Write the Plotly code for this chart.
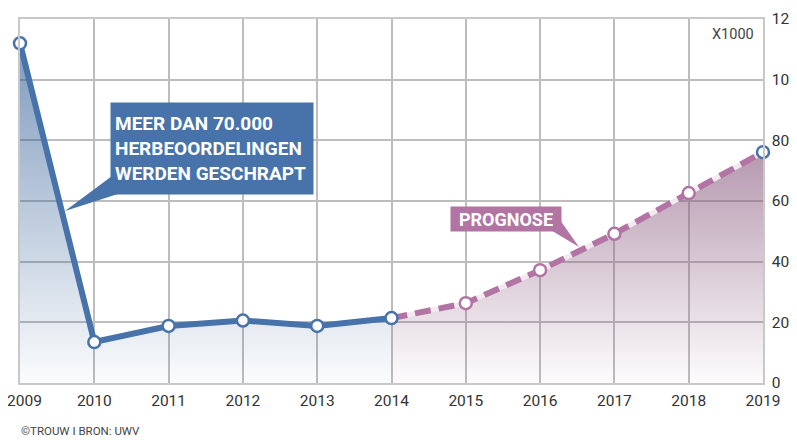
import plotly.graph_objects as go

# ---- data ----
years_actual = [2009, 2010, 2011, 2012, 2013, 2014]
values_actual = [112, 13.5, 18.8, 20.6, 18.8, 21.4]
years_forecast = [2014, 2015, 2016, 2017, 2018, 2019]
values_forecast = [21.4, 26.3, 37.2, 49.2, 62.6, 76.1]
x_ticks = list(range(2009, 2020))
y_ticks = [0, 20, 40, 60, 80, 100, 120]

BLUE = "#4773aa"
PURPLE = "#b274a3"
GRID = "#bdbdbd"
FONT = "Roboto, Open Sans, sans-serif"

# page body has an 8px default margin: compensate
OFF = 8
W, H = 797 - OFF, 440 - OFF
L, R, T, B = 20 - OFF, 34, 19 - OFF, 57
XR = (2009, 2019)
YR = (0, 120)
pw = W - L - R
ph = H - T - B


# helpers take page pixel coordinates (as measured on the reference)
def px2x(px):
    return XR[0] + (px - OFF - L) / pw * (XR[1] - XR[0])


def px2y(py):
    return YR[0] + (T + ph - (py - OFF)) / ph * (YR[1] - YR[0])


def px2px(px):
    return (px - OFF - L) / pw


def py2py(py):
    return (T + ph - (py - OFF)) / ph


fig = go.Figure()

# fills
fig.add_trace(go.Scatter(
    x=years_actual, y=values_actual, mode="lines", line=dict(width=0),
    fill="tozeroy",
    fillgradient=dict(type="vertical", colorscale=[[0, "rgba(42,87,145,0.02)"], [1, "rgba(42,87,145,0.6)"]]),
    hoverinfo="skip", showlegend=False))
fig.add_trace(go.Scatter(
    x=years_forecast, y=values_forecast, mode="lines", line=dict(width=0),
    fill="tozeroy",
    fillgradient=dict(type="vertical", colorscale=[[0, "rgba(137,90,127,0.02)"], [1, "rgba(137,90,127,0.62)"]]),
    hoverinfo="skip", showlegend=False))

# forecast line: pale underlay + dashes
fig.add_trace(go.Scatter(
    x=years_forecast, y=values_forecast, mode="lines",
    line=dict(color="#f3e9f0", width=5), hoverinfo="skip", showlegend=False))
fig.add_trace(go.Scatter(
    x=years_forecast, y=values_forecast, mode="lines",
    line=dict(color=PURPLE, width=6, dash="16px,8px"), showlegend=False))

# actual line
fig.add_trace(go.Scatter(
    x=years_actual, y=values_actual, mode="lines",
    line=dict(color=BLUE, width=6), showlegend=False))

# markers
all_years = years_actual + years_forecast[1:]
all_vals = values_actual + values_forecast[1:]
mcolors = [BLUE] * len(years_actual) + [PURPLE] * (len(years_forecast) - 2) + [BLUE]
fig.add_trace(go.Scatter(
    x=all_years, y=all_vals, mode="markers", cliponaxis=False,
    marker=dict(size=12, color="white", line=dict(color=mcolors, width=2.5)),
    showlegend=False))

# callout pointers
fig.add_shape(type="path", xref="x", yref="y", fillcolor=BLUE, line=dict(width=0),
              path=f"M {px2x(112)} {px2y(176)} L {px2x(124)} {px2y(192)} L {px2x(65)} {px2y(211)} Z")
fig.add_shape(type="path", xref="x", yref="y", fillcolor=PURPLE, line=dict(width=0),
              path=f"M {px2x(549)} {px2y(229)} L {px2x(560)} {px2y(220)} L {px2x(579)} {px2y(247)} Z")

fig.add_annotation(
    x=px2x(110), y=px2y(102), xref="x", yref="y", xanchor="left", yanchor="top",
    text="MEER DAN 70.000<br>HERBEOORDELINGEN<br>WERDEN GESCHRAPT",
    showarrow=False, align="left", valign="middle",
    font=dict(family=FONT, size=19, color="white", weight="bold"),
    bgcolor=BLUE, borderpad=4, width=194, height=83)
fig.add_annotation(
    x=px2x(450), y=px2y(206), xref="x", yref="y", xanchor="left", yanchor="top",
    text="PROGNOSE", showarrow=False, align="center", valign="middle",
    font=dict(family=FONT, size=18, color="white", weight="bold"),
    bgcolor=PURPLE, borderpad=2, width=106, height=20)

fig.add_annotation(
    x=px2px(756), y=py2py(35), xref="paper", yref="paper",
    xanchor="right", yanchor="middle", text="X1000", showarrow=False,
    font=dict(family=FONT, size=14.5, color="#444444"))
fig.add_annotation(
    x=px2px(19), y=py2py(431), xref="paper", yref="paper",
    xanchor="left", yanchor="middle", text="©TROUW I BRON: UWV", showarrow=False,
    font=dict(family=FONT, size=11.5, color="#444444"))
# first year label sits partly beyond the left edge (plotly would drop it as a tick label)
fig.add_annotation(
    x=px2px(44), y=py2py(401), xref="paper", yref="paper",
    xanchor="right", yanchor="middle", text=str(x_ticks[0]), showarrow=False,
    font=dict(family=FONT, size=15.5, color="#333333"))

fig.update_xaxes(range=list(XR), tickvals=x_ticks[1:], ticktext=[str(v) for v in x_ticks[1:]],
                 automargin=False,
                 showgrid=True, gridcolor=GRID, gridwidth=1.5, zeroline=False,
                 showline=True, linecolor="#c8c8c8", linewidth=2, mirror=True,
                 ticks="outside", ticklen=2, tickcolor="rgba(0,0,0,0)",
                 tickfont=dict(family=FONT, size=15.5, color="#333333"))
fig.update_yaxes(range=list(YR), tickvals=y_ticks, side="right",
                 automargin=False,
                 showgrid=True, gridcolor=GRID, gridwidth=1.5, zeroline=False,
                 showline=True, linecolor="#c8c8c8", linewidth=1.5, mirror=True,
                 ticks="outside", ticklen=4, tickcolor="rgba(0,0,0,0)",
                 tickfont=dict(family=FONT, size=15.5, color="#333333"))

fig.update_layout(width=W, height=H, margin=dict(l=L, r=R, t=T, b=B, pad=0),
                  plot_bgcolor="white", paper_bgcolor="white", showlegend=False)

fig.write_html("out.html")
